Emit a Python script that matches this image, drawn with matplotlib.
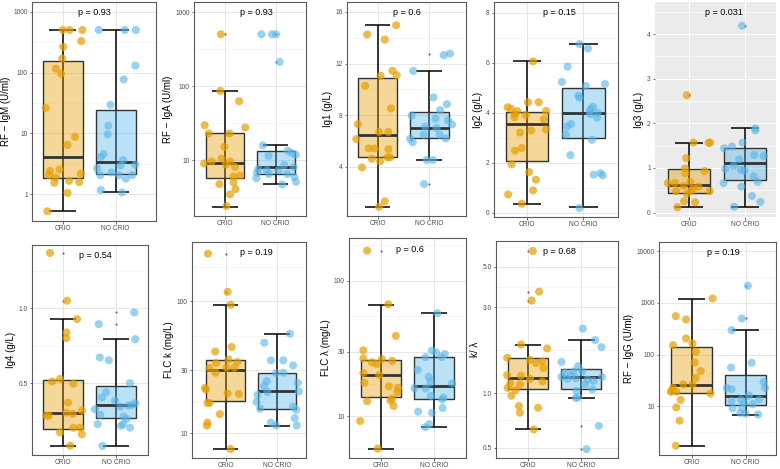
import matplotlib.pyplot as plt
import matplotlib.colors as mcolors
import numpy as np

plt.rcParams['font.family'] = ['Liberation Sans', 'DejaVu Sans']

groups = ["CRIO", "NO CRIO"]
col_crio = "#E69F00"
col_no = "#56B4E9"

# ---- RF-IgM ----
igm_crio = [500, 500, 500, 330, 264, 170, 116, 96, 26.4, 8.8, 6.5, 2.57, 2.44, 2.07, 2.2, 1.67, 1.59, 1.55, 1.9, 1.06, 0.53]
igm_crio_dx = [0.0, 0.13, 0.37, 0.35, 0.01, -0.01, -0.13, -0.03, -0.32, 0.23, 0.09, -0.06, -0.24, -0.26, 0.34, 0.12, 0.31, -0.16, -0.13, 0.09, -0.29]
igm_no = [500, 500, 500, 130, 77, 29.5, 13.4, 9.7, 4.6, 4.1, 3.66, 3.0, 3.07, 2.67, 2.29, 2.07, 2.07, 2.07, 1.81, 1.18, 1.08]
igm_no_dx = [-0.32, 0.17, 0.38, 0.37, 0.15, -0.10, -0.14, -0.15, -0.23, -0.28, 0.14, 0.09, 0.37, -0.35, -0.08, -0.29, 0.06, 0.31, 0.19, -0.28, 0.12]
igm_box = [[0.53, 1.83, 4.14, 153, 500], [1.08, 2.15, 3.43, 24.1, 500]]
igm_out = [[], []]

# ---- RF-IgA ----
iga_crio = [500, 86, 62.5, 29.6, 27.6, 22.9, 22.9, 15.1, 10.5, 9.6, 9.6, 9.0, 8.7, 8.1, 6.2, 6.0, 5.0, 4.75, 4.06, 3.44, 2.4]
iga_crio_dx = [-0.08, -0.09, 0.28, -0.4, 0.4, -0.32, 0.09, -0.01, -0.07, -0.26, 0.1, -0.41, 0.02, 0.2, 0.3, 0.17, 0.17, -0.11, 0.21, 0.1, 0.03]
iga_no = [500, 500, 500, 212, 15.8, 11.4, 13.4, 12.5, 11.8, 8.6, 8.1, 7.6, 7.3, 7.3, 6.75, 6.5, 6.5, 5.95, 5.7, 5.1, 4.7]
iga_no_dx = [-0.28, -0.07, 0.01, 0.08, -0.25, -0.14, 0.24, 0.32, 0.4, 0.17, 0.36, -0.34, -0.17, 0.06, -0.37, -0.13, 0.23, 0.37, -0.38, 0.4, 0.13]
iga_box = [[2.35, 5.8, 9.2, 22.9, 86], [4.7, 6.5, 8.0, 13.2, 15.9]]
iga_out = [[500], [500, 212]]

# ---- Ig1 ----
ig1_crio = [14.97, 14.25, 13.86, 11.43, 11.1, 11.05, 10.27, 8.52, 7.3, 6.7, 6.7, 6.14, 5.42, 5.42, 5.37, 4.62, 4.72, 4.72, 4.41, 3.95, 1.32, 0.9]
ig1_crio_dx = [0.36, -0.2, 0.14, 0.29, 0.37, 0.06, -0.24, 0.26, -0.38, 0.03, 0.21, -0.41, -0.17, -0.06, 0.21, -0.11, 0.24, 0.19, 0.05, -0.3, 0.14, 0.03]
ig1_no = [12.77, 12.65, 11.43, 9.37, 8.85, 7.97, 8.39, 7.1, 7.74, 7.6, 7.28, 7.0, 6.48, 6.48, 6.17, 6.2, 5.9, 4.52, 4.52, 2.66]
ig1_no_dx = [0.4, 0.28, -0.31, 0.08, 0.34, -0.34, 0.21, -0.08, 0.12, 0.36, 0.44, 0.14, -0.11, 0.2, -0.37, 0.32, -0.32, -0.05, 0.07, -0.1]
ig1_box = [[0.9, 4.72, 6.45, 10.84, 14.97], [4.52, 6.25, 7.02, 8.26, 11.43]]
ig1_out = [[], [12.72, 2.66]]

# ---- Ig2 ----
ig2_crio = [6.05, 4.42, 4.42, 4.22, 4.16, 4.07, 4.07, 3.94, 3.91, 3.82, 3.74, 3.33, 3.29, 3.21, 2.59, 2.49, 1.94, 1.63, 1.33, 0.9, 0.74, 0.37]
ig2_crio_dx = [0.11, 0.02, 0.21, -0.34, -0.28, -0.17, 0.34, -0.21, -0.02, -0.22, 0.3, 0.34, 0.08, -0.12, -0.09, -0.21, -0.27, 0.04, 0.16, 0.11, -0.33, -0.09]
ig2_no = [6.74, 6.56, 5.84, 5.23, 5.15, 5.07, 4.68, 4.6, 4.24, 4.16, 4.05, 4.0, 3.94, 3.81, 3.55, 3.45, 3.13, 2.92, 2.31, 1.53, 1.59, 1.5, 0.2]
ig2_no_dx = [-0.07, 0.08, -0.28, -0.38, 0.38, 0.04, -0.09, -0.07, 0.17, 0.13, 0.11, 0.25, 0.12, 0.24, -0.22, -0.29, -0.31, 0.15, -0.23, 0.18, 0.3, 0.34, -0.07]
ig2_box = [[0.37, 2.06, 3.54, 4.02, 6.05], [0.22, 2.98, 3.99, 4.97, 6.75]]
ig2_out = [[], []]

# ---- Ig3 ----
ig3_crio = [2.63, 1.57, 1.56, 1.57, 1.22, 0.99, 0.88, 0.93, 0.66, 0.66, 0.69, 0.58, 0.6, 0.54, 0.49, 0.48, 0.48, 0.42, 0.25, 0.23, 0.12]
ig3_crio_dx = [-0.04, 0.08, 0.35, 0.38, -0.05, -0.07, -0.07, 0.28, -0.38, -0.25, 0.02, 0.17, -0.1, 0.08, 0.04, -0.23, 0.37, -0.04, -0.09, 0.11, -0.21]
ig3_no = [4.19, 1.89, 1.84, 1.57, 1.44, 1.48, 1.29, 1.27, 1.19, 1.05, 0.98, 0.96, 0.94, 0.81, 0.69, 0.66, 0.58, 0.37, 0.24, 0.13]
ig3_no_dx = [-0.05, 0.19, 0.19, -0.04, -0.37, -0.23, 0.17, 0.34, -0.1, -0.2, -0.35, -0.07, -0.01, 0.16, 0.23, -0.38, -0.06, 0.13, 0.28, -0.19]
ig3_box = [[0.12, 0.44, 0.62, 0.97, 1.57], [0.13, 0.72, 1.11, 1.44, 1.9]]
ig3_out = [[2.63], [4.19]]

# ---- Ig4 ----
ig4_crio = [1.367, 1.049, 0.927, 0.838, 0.8, 0.529, 0.511, 0.496, 0.371, 0.318, 0.304, 0.296, 0.284, 0.284, 0.204, 0.204, 0.173, 0.16, 0.084]
ig4_crio_dx = [-0.25, 0.07, 0.26, 0.06, 0.06, -0.06, -0.21, 0.19, 0.09, 0.35, 0.06, 0.18, -0.27, -0.32, 0.19, 0.32, -0.06, 0.35, 0.13]
ig4_no = [0.971, 0.893, 0.793, 0.671, 0.653, 0.5, 0.44, 0.404, 0.384, 0.344, 0.367, 0.356, 0.351, 0.327, 0.289, 0.278, 0.262, 0.227, 0.216, 0.204, 0.227, 0.082]
ig4_no_dx = [0.34, -0.33, 0.36, -0.31, -0.14, 0.26, -0.19, -0.27, -0.02, 0.08, 0.36, 0.3, 0.23, -0.4, -0.3, 0.14, 0.2, -0.35, 0.09, 0.26, 0.13, -0.26]
ig4_box = [[0.084, 0.193, 0.304, 0.524, 0.927], [0.082, 0.267, 0.356, 0.482, 0.793]]
ig4_out = [[1.367, 1.049], [0.971, 0.893]]

# ---- FLC k ----
flck_crio = [230, 118, 94, 45, 41.6, 36.2, 34.6, 34.0, 31.1, 31.3, 31.3, 28.7, 22.0, 21.4, 20.0, 19.8, 16.9, 16.9, 13.9, 12.0, 11.4, 7.56]
flck_crio_dx = [-0.34, 0.04, 0.1, 0.12, -0.2, 0.06, 0.23, -0.18, -0.31, 0.02, 0.17, -0.19, -0.4, -0.38, 0.04, 0.26, -0.31, -0.35, -0.11, -0.35, -0.36, 0.1]
flck_no = [56.8, 48.5, 35.6, 35.6, 32.6, 28.5, 28.7, 24.8, 24.0, 22.7, 20.5, 20.7, 19.5, 17.2, 15.8, 15.3, 15.0, 13.0, 12.0, 11.4, 11.4]
flck_no_dx = [0.25, -0.25, -0.12, 0.12, 0.31, -0.02, 0.12, -0.2, 0.4, -0.25, -0.19, 0.42, -0.38, -0.4, 0.31, -0.33, 0.37, 0.34, -0.12, -0.02, 0.38]
flck_box = [[7.56, 17.5, 29.9, 35.6, 94.4], [11.4, 15.2, 20.7, 28.6, 56.5]]
flck_out = [[230, 118], []]

# ---- FLC lambda ----
flcl_crio = [167, 67, 39.2, 30.6, 26.7, 26.4, 25.6, 25.0, 24.3, 20.8, 20.1, 17.7, 16.6, 16.2, 15.1, 13.5, 13.0, 12.9, 11.9, 9.2, 5.76]
flcl_crio_dx = [-0.26, 0.14, 0.28, -0.33, -0.33, 0.02, 0.21, -0.17, -0.08, -0.33, -0.03, -0.31, 0.15, 0.32, 0.31, 0.21, 0.18, -0.26, 0.24, -0.39, -0.06]
flcl_no = [57.6, 30.5, 29.5, 28.8, 27.3, 27.3, 22.0, 19.5, 17.5, 17.7, 16.1, 16.0, 14.1, 13.7, 13.3, 11.5, 10.8, 10.6, 8.72, 8.3]
flcl_no_dx = [0.06, -0.04, 0.04, 0.2, -0.16, 0.14, -0.31, -0.1, 0.34, -0.07, -0.37, -0.16, -0.06, 0.18, 0.15, 0.16, -0.3, -0.04, -0.09, -0.16]
flcl_box = [[5.76, 13.8, 20.3, 26.0, 66.4], [8.3, 13.3, 16.7, 27.2, 57.6]]
flcl_out = [[167], []]

# ---- k / lambda ----
ratio_crio = [6.13, 3.65, 3.26, 1.86, 1.77, 1.57, 1.53, 1.47, 1.50, 1.38, 1.26, 1.25, 1.2, 1.16, 1.13, 1.12, 1.07, 1.04, 0.97, 0.85, 0.78, 0.83, 0.63]
ratio_crio_dx = [0.09, 0.21, 0.07, -0.13, 0.36, -0.39, 0.04, 0.15, 0.27, 0.29, -0.39, -0.13, 0.04, 0.27, -0.33, -0.15, -0.38, -0.23, -0.31, -0.17, -0.15, 0.19, 0.11]
ratio_no = [2.28, 1.97, 1.8, 1.49, 1.41, 1.32, 1.32, 1.30, 1.23, 1.25, 1.23, 1.21, 1.19, 1.17, 1.2, 1.12, 1.05, 1.03, 0.95, 0.94, 0.66, 0.49]
ratio_no_dx = [0.03, 0.26, 0.38, -0.37, -0.06, -0.15, 0.02, -0.31, -0.37, -0.19, 0.39, -0.1, 0.12, 0.23, -0.26, 0.07, 0.21, -0.09, -0.06, -0.1, 0.33, 0.1]
ratio_box = [[0.63, 1.05, 1.22, 1.56, 1.85], [0.94, 1.06, 1.23, 1.37, 1.98]]
ratio_out = [[6.13, 3.65, 3.26], [0.66, 0.49]]

# ---- RF-IgG ----
igg_crio = [1220, 556, 480, 206, 153, 165, 114, 70.6, 48.2, 35.8, 26.6, 26.6, 23, 19.8, 19.2, 19.2, 17.8, 13.4, 9.56, 5.29, 1.74]
igg_crio_dx = [0.39, -0.29, -0.1, -0.1, -0.34, 0.02, 0.08, 0.06, 0.17, 0.08, -0.15, 0.02, -0.34, -0.37, -0.28, -0.38, 0.35, -0.2, -0.28, -0.22, -0.29]
igg_no = [2150, 502, 298, 69.8, 56.6, 29.9, 22.9, 21.6, 22.9, 16.2, 13.6, 13.6, 12.7, 11.7, 11.1, 9.15, 9.42, 7.54, 7.2, 7.0]
igg_no_dx = [0.04, -0.07, -0.26, 0.11, -0.27, 0.33, -0.35, -0.26, 0.36, 0.06, -0.09, 0.25, -0.26, -0.03, 0.13, -0.24, -0.07, -0.1, 0.0, 0.23]
igg_box = [[1.74, 18.4, 26.2, 142, 1220], [6.8, 10.6, 15.9, 40.3, 298]]
igg_out = [[], [2150, 502]]

p_values = ["0.93", "0.93", "0.6", "0.15", "0.031", "0.54", "0.19", "0.6", "0.68", "0.19"]

panels = [
    # ylabel, data, log, ticks, tick labels, ylim, xlim, rect(px: x0, y0, x1, y1), grey theme
    ("RF \u2212 IgM (U/ml)", (igm_crio, igm_crio_dx, igm_no, igm_no_dx, igm_box, igm_out), True,
     [1, 10, 100, 1000], None, (0.366, 1440), (0.42, 2.76), (32, 2, 156, 221), False),
    ("RF \u2212 IgA (U/ml)", (iga_crio, iga_crio_dx, iga_no, iga_no_dx, iga_box, iga_out), True,
     [10, 100, 1000], None, (1.76, 1365), (0.39, 2.6), (194, 2, 306, 216), False),
    ("Ig1 (g/L)", (ig1_crio, ig1_crio_dx, ig1_no, ig1_no_dx, ig1_box, ig1_out), False,
     [4, 8, 12, 16], None, (0.18, 16.77), (0.41, 2.71), (347, 2, 466, 216), False),
    ("Ig2 (g/L)", (ig2_crio, ig2_crio_dx, ig2_no, ig2_no_dx, ig2_box, ig2_out), False,
     [0, 2, 4, 6, 8], None, (-0.16, 8.42), (0.42, 2.61), (494, 2, 618, 217), False),
    ("Ig3 (g/L)", (ig3_crio, ig3_crio_dx, ig3_no, ig3_no_dx, ig3_box, ig3_out), False,
     [0, 1, 2, 3, 4], None, (-0.1, 4.72), (0.39, 2.56), (655, 2, 776, 217), True),
    ("Ig4 (g/L)", (ig4_crio, ig4_crio_dx, ig4_no, ig4_no_dx, ig4_box, ig4_out), False,
     [0.5, 1.0], ["0.5", "1.0"], (0.022, 1.42), (0.41, 2.6), (32, 245, 148, 455), False),
    ("FLC k (mg/L)", (flck_crio, flck_crio_dx, flck_no, flck_no_dx, flck_box, flck_out), True,
     [10, 30, 100], None, (6.46, 282), (0.35, 2.56), (192, 242, 306, 458), False),
    ("FLC \u03bb (mg/L)", (flcl_crio, flcl_crio_dx, flcl_no, flcl_no_dx, flcl_box, flcl_out), True,
     [10, 30, 100], None, (4.91, 207), (0.40, 2.6), (349, 238, 466, 458), False),
    ("k/ \u03bb", (ratio_crio, ratio_crio_dx, ratio_no, ratio_no_dx, ratio_box, ratio_out), True,
     [0.5, 1.0, 3.0, 5.0], ["0.5", "1.0", "3.0", "5.0"], (0.438, 6.96), (0.4, 2.69), (496, 241, 618, 458), False),
    ("RF \u2212 IgG (U/ml)", (igg_crio, igg_crio_dx, igg_no, igg_no_dx, igg_box, igg_out), True,
     [10, 100, 1000, 10000], None, (1.15, 15100), (0.40, 2.56), (659, 242, 776, 455), False),
]

W, H = 780, 469
fig = plt.figure(figsize=(W / 100, H / 100), dpi=100)

for (ylabel, data, logy, ticks, ticklabels, ylim, xlim, rect, grey), pval in zip(panels, p_values):
    crio, crio_dx, no, no_dx, box, out = data
    x0, y0, x1, y1 = rect
    ax = fig.add_axes([x0 / W, 1 - y1 / H, (x1 - x0) / W, (y1 - y0) / H])

    if logy:
        ax.set_yscale('log')
        lt = np.log10(ticks)
        mids = [(a + b) / 2 for a, b in zip(lt[:-1], lt[1:])]
        mids = [lt[0] - (lt[1] - lt[0]) / 2] + mids + [lt[-1] + (lt[-1] - lt[-2]) / 2]
        minor = [10 ** m for m in mids]
    else:
        step = ticks[1] - ticks[0]
        minor = [ticks[0] - step / 2] + [t + step / 2 for t in ticks]
    ax.set_yticks(ticks)
    ax.set_yticklabels(ticklabels if ticklabels else [f"{t:g}" for t in ticks])
    ax.set_yticks(minor, minor=True)
    ax.tick_params(axis='y', which='minor', length=0, labelleft=False)
    ax.set_ylim(ylim)
    ax.set_xlim(xlim)
    ax.set_xticks([1, 2])
    ax.set_xticklabels(groups)

    if grey:
        ax.set_facecolor('#EBEBEB')
        gcol, mcol = 'white', 'white'
        for s in ax.spines.values():
            s.set_visible(False)
    else:
        gcol, mcol = '#E6E6E6', '#F0F0F0'
        for s in ax.spines.values():
            s.set_color('#5A5A5A')
            s.set_linewidth(0.8)
    ax.grid(True, which='major', color=gcol, lw=0.7)
    ax.grid(True, which='minor', axis='y', color=mcol, lw=0.4)
    ax.set_axisbelow(True)

    ax.tick_params(axis='both', which='major', length=1.8, width=0.5, color='#333333',
                   labelsize=4.8, labelcolor='#4D4D4D', pad=1.2)
    ax.set_ylabel(ylabel, fontsize=7, labelpad=2)

    # errorbar (full whisker) behind the box
    for pos, b in zip([1, 2], box):
        ax.vlines(pos, b[0], b[4], color='black', lw=1.1, zorder=2)
        ax.hlines([b[0], b[4]], pos - 0.25, pos + 0.25, color='black', lw=1.1, zorder=2)

    stats = []
    for b, o in zip(box, out):
        stats.append(dict(whislo=b[1], q1=b[1], med=b[2], q3=b[3], whishi=b[3], fliers=o))
    bp = ax.bxp(stats, positions=[1, 2], widths=0.75, patch_artist=True, showcaps=False,
                boxprops=dict(edgecolor='#333333', linewidth=1.0),
                medianprops=dict(color='#333333', linewidth=2.0),
                whiskerprops=dict(linewidth=0),
                flierprops=dict(marker='o', markersize=1.6, markerfacecolor='#6E6E6E',
                                markeredgecolor='none'),
                manage_ticks=False, zorder=3)
    for patch, c in zip(bp['boxes'], [col_crio, col_no]):
        patch.set_facecolor((*mcolors.to_rgb(c), 0.4))

    ax.scatter(1 + np.array(crio_dx), crio, s=34, color=col_crio, alpha=0.7,
               edgecolors='none', zorder=5)
    ax.scatter(2 + np.array(no_dx), no, s=34, color=col_no, alpha=0.6,
               edgecolors='none', zorder=5)

    ax.text(1.29, 0.95, f"p = {pval}", transform=ax.get_xaxis_transform(),
            ha='left', va='center', fontsize=6.5, color='black', zorder=6)

fig.savefig('out.png', dpi=100)
